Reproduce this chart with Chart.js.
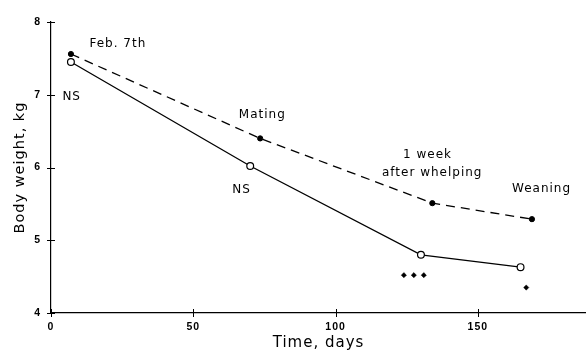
<!DOCTYPE html>
<html><head><meta charset="utf-8">
<script src="https://cdn.jsdelivr.net/npm/chart.js@4/dist/chart.umd.min.js"></script>
<style>html,body{margin:0;padding:0;background:#fff;}#wrap{width:586px;height:357px;}</style>
</head><body><div id="wrap"><canvas id="c" width="586" height="357"></canvas></div>
<script>
// ---- data ----
const xTickValues = [0, 50, 100, 150];
const yTickValues = [4, 5, 6, 7, 8];
const dashedDays = [7, 73.5, 134, 169];
const dashedWeight = [7.56, 6.40, 5.51, 5.29];
const solidDays = [7, 70, 130, 165];
const solidWeight = [7.45, 6.02, 4.80, 4.63];
const signifDays = [124, 127.5, 131, 167];
const signifWeight = [4.52, 4.52, 4.52, 4.35];
const noteTexts = ['Feb. 7th', 'NS', 'Mating', 'NS', '1 week', 'after whelping', 'Weaning'];
const noteDays = [13.5, 4, 66, 63.7, 123.7, 116.3, 162];
const noteWeight = [7.70, 6.97, 6.72, 5.69, 6.17, 5.93, 5.71];

const pts = (xs, ys) => xs.map((v, i) => ({x: v, y: ys[i]}));

const decor = {
  id: 'decor',
  beforeDraw(chart) { chart.ctx.letterSpacing = '1px'; },
  afterDraw(chart) {
    const {ctx, scales: {x, y}} = chart;
    ctx.save();
    ctx.strokeStyle = '#000';
    ctx.lineWidth = 1;
    ctx.beginPath();
    xTickValues.forEach(v => {
      const px = Math.round(x.getPixelForValue(v)) + 0.5;
      ctx.moveTo(px, y.bottom - 4); ctx.lineTo(px, y.bottom + 4);
    });
    yTickValues.forEach(v => {
      const py = Math.round(y.getPixelForValue(v)) + 0.5;
      ctx.moveTo(x.left - 4, py); ctx.lineTo(x.left + 4, py);
    });
    ctx.stroke();
    ctx.letterSpacing = '1px';
    ctx.fillStyle = '#000';
    ctx.font = '12px "DejaVu Sans"';
    ctx.textAlign = 'left';
    ctx.textBaseline = 'middle';
    noteTexts.forEach((t, i) => {
      ctx.fillText(t, x.getPixelForValue(noteDays[i]), y.getPixelForValue(noteWeight[i]));
    });
    ctx.restore();
  }
};

new Chart(document.getElementById('c'), {
  type: 'line',
  data: {
    datasets: [
      {
        data: pts(dashedDays, dashedWeight),
        borderColor: '#000', borderWidth: 1.3, borderDash: [9, 6],
        pointRadius: 2.6, pointBackgroundColor: '#000', pointBorderColor: '#000', pointBorderWidth: 1,
        tension: 0, fill: false
      },
      {
        data: pts(solidDays, solidWeight),
        borderColor: '#000', borderWidth: 1.3,
        pointRadius: 3.4, pointBackgroundColor: '#fff', pointBorderColor: '#000', pointBorderWidth: 1.2,
        tension: 0, fill: false
      },
      {
        data: pts(signifDays, signifWeight),
        showLine: false,
        pointStyle: 'rectRot', pointRadius: 2.6, pointBackgroundColor: '#000', pointBorderColor: '#000', pointBorderWidth: 0.5
      }
    ]
  },
  options: {
    responsive: false,
    animation: false,
    devicePixelRatio: 1,
    layout: {autoPadding: false, padding: {top: 22, right: 0, left: 0, bottom: 0}},
    plugins: {legend: {display: false}, tooltip: {enabled: false}},
    scales: {
      x: {
        type: 'linear', min: 0, max: 188,
        afterBuildTicks: s => { s.ticks = xTickValues.map(v => ({value: v})); },
        afterFit: s => { s.height = 44; },
        grid: {display: false, drawTicks: false},
        border: {display: true, color: '#000', width: 1.2},
        ticks: {color: '#000', padding: 8, font: {family: 'Liberation Sans', size: 10.5, weight: 'bold'}, maxRotation: 0},
        title: {display: true, text: 'Time, days', color: '#000', font: {family: 'DejaVu Sans', size: 15}, padding: {top: 0, bottom: 5}}
      },
      y: {
        type: 'linear', min: 4, max: 8,
        afterBuildTicks: s => { s.ticks = yTickValues.map(v => ({value: v})); },
        afterFit: s => { s.width = 51; },
        grid: {display: false, drawTicks: false},
        border: {display: true, color: '#000', width: 1.2},
        ticks: {color: '#000', padding: 10, font: {family: 'Liberation Sans', size: 10.5, weight: 'bold'}},
        title: {display: true, text: 'Body weight, kg', color: '#000', font: {family: 'DejaVu Sans', size: 14.5}, padding: {top: 12, bottom: 0}}
      }
    }
  },
  plugins: [decor]
});
</script>
</body></html>
